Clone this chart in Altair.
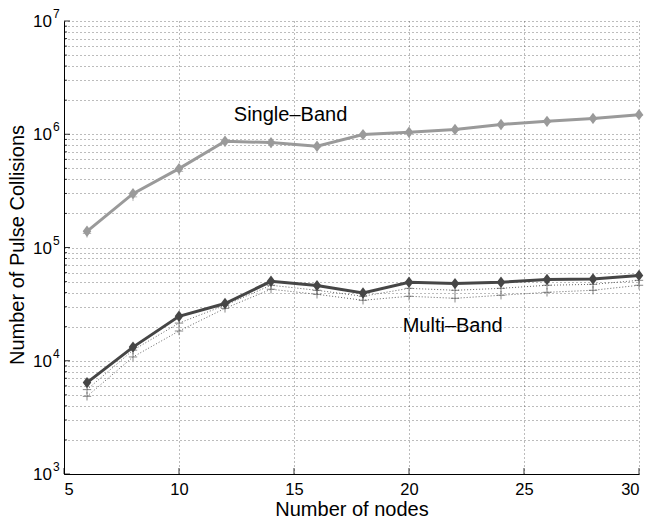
import altair as alt
import pandas as pd

nodes = [6, 8, 10, 12, 14, 16, 18, 20, 22, 24, 26, 28, 30]
single_band = [1.39e5, 2.99e5, 4.97e5, 8.67e5, 8.44e5, 7.83e5, 9.93e5, 1.04e6, 1.10e6, 1.22e6, 1.30e6, 1.38e6, 1.49e6]
single_band_lo = [1.33e5, 2.80e5, 4.70e5, 8.50e5, 8.30e5, 7.70e5, 9.80e5, 1.02e6, 1.08e6, 1.20e6, 1.28e6, 1.36e6, 1.47e6]
multi_band = [6.41e3, 1.32e4, 2.47e4, 3.20e4, 5.03e4, 4.61e4, 3.96e4, 4.93e4, 4.80e4, 4.93e4, 5.21e4, 5.27e4, 5.67e4]
multi_band_lo1 = [5.56e3, 1.24e4, 2.15e4, 3.09e4, 4.64e4, 4.19e4, 3.71e4, 4.36e4, 4.19e4, 4.36e4, 4.64e4, 4.73e4, 5.13e4]
multi_band_lo2 = [4.85e3, 1.08e4, 1.83e4, 2.90e4, 4.28e4, 3.86e4, 3.42e4, 3.71e4, 3.56e4, 3.79e4, 4.02e4, 4.19e4, 4.64e4]

x_ticks = [5, 10, 15, 20, 25, 30]
y_grid = [m * 10 ** k for k in range(3, 7) for m in range(1, 10)] + [1e7]
y_major = [1e3, 1e4, 1e5, 1e6, 1e7]
y_exponents = ["3", "4", "5", "6", "7"]

labels = ["Single\u2013Band", "Multi\u2013Band"]
label_x = [14.85, 21.9]
label_y = [1.47e6, 2.04e4]

W, H = 575, 453
FONT = "Liberation Sans"

main = pd.DataFrame(
    [{"n": n, "v": v, "s": "single"} for n, v in zip(nodes, single_band)]
    + [{"n": n, "v": v, "s": "multi"} for n, v in zip(nodes, multi_band)]
)
lo = pd.DataFrame(
    [{"n": n, "v": v, "s": "single_lo"} for n, v in zip(nodes, single_band_lo)]
    + [{"n": n, "v": v, "s": "multi_lo1"} for n, v in zip(nodes, multi_band_lo1)]
    + [{"n": n, "v": v, "s": "multi_lo2"} for n, v in zip(nodes, multi_band_lo2)]
)
ann = pd.DataFrame({"t": labels, "x": label_x, "y": label_y})
ymajor_df = pd.DataFrame({"v": y_major, "e": y_exponents})
yminor_df = pd.DataFrame({"v": [v for v in y_grid if v not in y_major]})
xtick_df = pd.DataFrame({"n": x_ticks})

xscale = alt.Scale(domain=[5, 30], nice=False, zero=False)
yscale = alt.Scale(type="log", domain=[1e3, 1e7], nice=False)

xaxis = alt.Axis(values=x_ticks, grid=True, gridDash=[1, 3], gridColor="#555", gridWidth=0.8,
                 ticks=False, domainColor="#000", domainWidth=1, labelFont=FONT, labelFontSize=16.5,
                 labelColor="#000", labelPadding=7, title="Number of nodes", titleFont=FONT,
                 titleFontSize=20, titleFontWeight="normal", titleColor="#000",
                 titleY=35, titleBaseline="middle")
yaxis = alt.Axis(values=y_grid, grid=True, gridDash=[1, 3], gridColor="#555", gridWidth=0.8,
                 ticks=False, domainColor="#000", domainWidth=1, labels=False,
                 title="Number of Pulse Collisions", titleFont=FONT, titleFontSize=20,
                 titleFontWeight="normal", titleColor="#000", titleX=-47, titleY=H / 2 - 3,
                 titleBaseline="middle", titleAngle=-90)

color_scale = alt.Scale(domain=["single", "multi", "single_lo", "multi_lo1", "multi_lo2"],
                        range=["#9a9a9a", "#464646", "#9a9a9a", "#555555", "#555555"])

grid_base = alt.Chart(main).mark_point(opacity=0).encode(
    x=alt.X("n:Q", scale=xscale, axis=xaxis),
    y=alt.Y("v:Q", scale=yscale, axis=yaxis),
)

ymajor_rules = alt.Chart(ymajor_df).mark_rule(color="#000", strokeWidth=0.8).encode(
    y=alt.Y("v:Q", scale=yscale),
    x=alt.value(0),
    x2=alt.value(6),
)
yminor_rules = alt.Chart(yminor_df).mark_rule(color="#000", strokeWidth=0.8).encode(
    y=alt.Y("v:Q", scale=yscale),
    x=alt.value(0),
    x2=alt.value(3),
)
xtick_rules = alt.Chart(xtick_df).mark_rule(color="#000", strokeWidth=0.8).encode(
    x=alt.X("n:Q", scale=xscale),
    y=alt.value(H),
    y2=alt.value(H - 6),
)

ylab_base = alt.Chart(ymajor_df).mark_text(font=FONT, fontSize=17, color="#000", align="right",
                                           baseline="middle", dy=1).encode(
    y=alt.Y("v:Q", scale=yscale),
    x=alt.value(-12),
    text=alt.value("10"),
)
ylab_exp = alt.Chart(ymajor_df).mark_text(font=FONT, fontSize=12, color="#000", align="left",
                                          baseline="middle", dy=-7).encode(
    y=alt.Y("v:Q", scale=yscale),
    x=alt.value(-11),
    text="e:N",
)

lo_lines = alt.Chart(lo).transform_filter("datum.s != 'single_lo'").mark_line(
    strokeWidth=0.9, strokeDash=[1, 2]).encode(
    x=alt.X("n:Q", scale=xscale),
    y=alt.Y("v:Q", scale=yscale),
    color=alt.Color("s:N", scale=color_scale, legend=None),
    detail="s:N",
)
lo_pts = alt.Chart(lo).mark_point(shape="M-1,0L1,0M0,-1L0,1", size=70, filled=False,
                                   strokeWidth=1).encode(
    x=alt.X("n:Q", scale=xscale),
    y=alt.Y("v:Q", scale=yscale),
    color=alt.Color("s:N", scale=color_scale, legend=None),
)

main_lines = alt.Chart(main).mark_line(strokeWidth=3).encode(
    x=alt.X("n:Q", scale=xscale),
    y=alt.Y("v:Q", scale=yscale),
    color=alt.Color("s:N", scale=color_scale, legend=None),
    detail="s:N",
)
main_pts = alt.Chart(main).mark_point(shape="M0,-1L0.75,0L0,1L-0.75,0Z", size=130, filled=True,
                                      opacity=1).encode(
    x=alt.X("n:Q", scale=xscale),
    y=alt.Y("v:Q", scale=yscale),
    color=alt.Color("s:N", scale=color_scale, legend=None),
)

text = alt.Chart(ann).mark_text(font=FONT, fontSize=20, color="#000", align="center",
                                baseline="middle").encode(
    x=alt.X("x:Q", scale=xscale),
    y=alt.Y("y:Q", scale=yscale),
    text="t:N",
)

chart = alt.layer(grid_base, ymajor_rules, yminor_rules, xtick_rules, ylab_base, ylab_exp,
                  lo_lines, lo_pts, main_lines, main_pts, text).properties(
    width=W, height=H,
    autosize=alt.AutoSizeParams(type="none"),
    padding={"left": 64, "top": 21, "right": 9, "bottom": 45},
    background="white",
).configure_view(stroke=None)

chart.save("out.html", embed_options={"renderer": "svg", "actions": False})
